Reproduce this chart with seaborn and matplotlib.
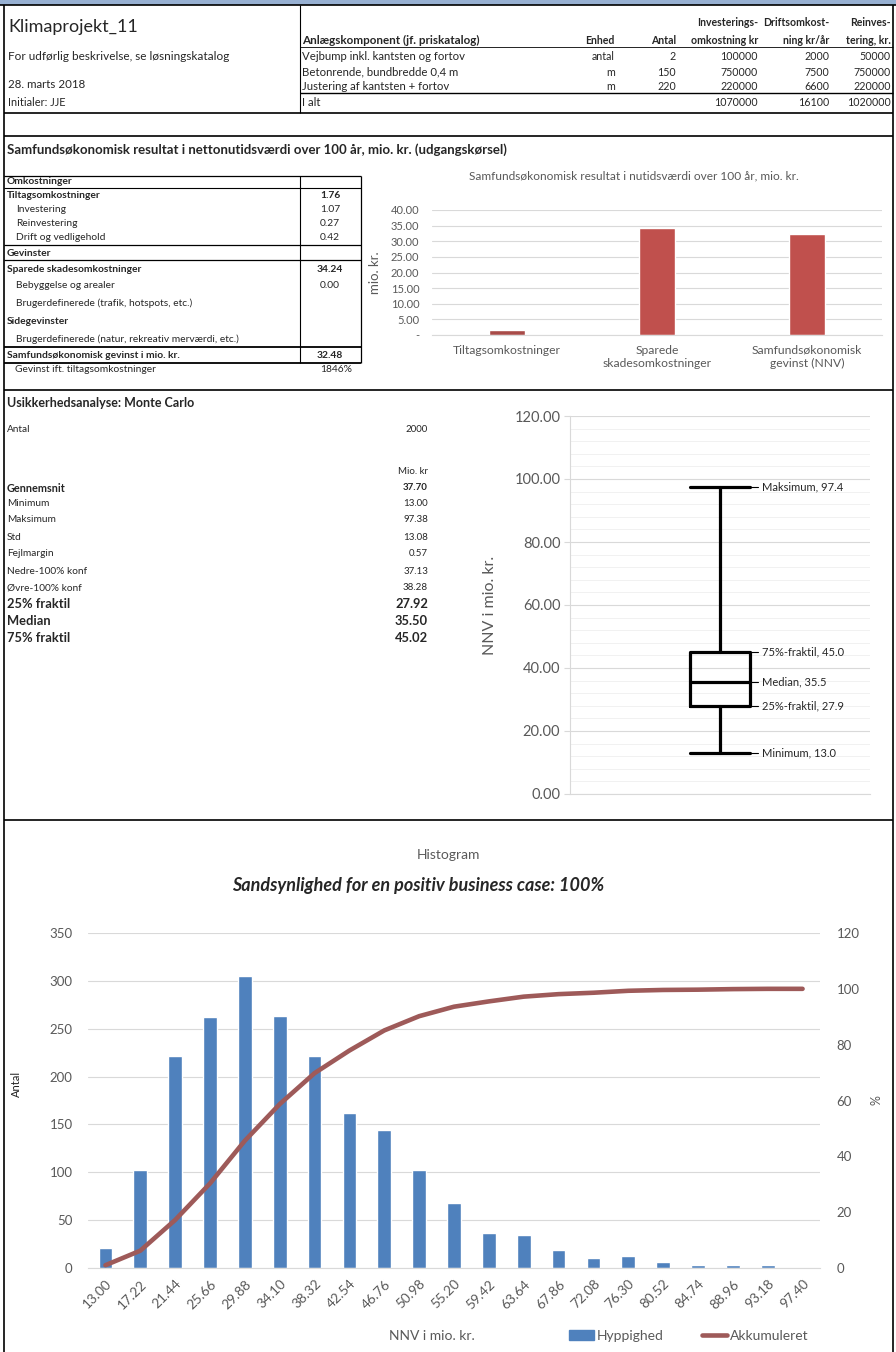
import numpy as np
import matplotlib
matplotlib.use('Agg')
import matplotlib.pyplot as plt
import seaborn as sns
from matplotlib.patches import Rectangle, Patch
from matplotlib.lines import Line2D
from matplotlib.ticker import MultipleLocator, FuncFormatter

# ---- data ----
komponenter = ['Vejbump inkl. kantsten og fortov', 'Betonrende, bundbredde 0,4 m',
               'Justering af kantsten + fortov']
enheder = ['antal', 'm', 'm']
antal = [2, 150, 220]
invest_kr = [100000, 750000, 220000]
drift_kr = [2000, 7500, 6600]
reinvest_kr = [50000, 750000, 220000]

omk_labels = ['Omkostninger', 'Tiltagsomkostninger', 'Investering', 'Reinvestering',
              'Drift og vedligehold', 'Gevinster', 'Sparede skadesomkostninger',
              'Bebyggelse og arealer', 'Brugerdefinerede (trafik, hotspots, etc.)',
              'Sidegevinster', 'Brugerdefinerede (natur, rekreativ merværdi, etc.)',
              'Samfundsøkonomisk gevinst i mio. kr.', 'Gevinst ift. tiltagsomkostninger']
omk_values = ['', '1.76', '1.07', '0.27', '0.42', '', '34.24', '0.00', '', '', '',
              '32.48', '1846%']

resultat_kategorier = ['Tiltagsomkostninger', 'Sparede\nskadesomkostninger',
                       'Samfundsøkonomisk\ngevinst (NNV)']
resultat_vaerdier = [1.76, 34.24, 32.48]

mc_antal = 2000
mc_labels = ['Gennemsnit', 'Minimum', 'Maksimum', 'Std', 'Fejlmargin', 'Nedre-100% konf',
             'Øvre-100% konf', '25% fraktil', 'Median', '75% fraktil']
mc_values = [37.70, 13.00, 97.38, 13.08, 0.57, 37.13, 38.28, 27.92, 35.50, 45.02]

box_navne = ['Maksimum', '75%-fraktil', 'Median', '25%-fraktil', 'Minimum']
box_vaerdier = [97.38, 45.02, 35.50, 27.92, 13.00]

hist_bins = ['13.00', '17.22', '21.44', '25.66', '29.88', '34.10', '38.32', '42.54',
             '46.76', '50.98', '55.20', '59.42', '63.64', '67.86', '72.08', '76.30',
             '80.52', '84.74', '88.96', '93.18', '97.40']
hist_antal = [21, 102, 221, 262, 305, 263, 222, 162, 144, 102, 68, 37, 34, 19, 10, 13,
              6, 3, 3, 3, 0]
hist_akk = [1.0, 6.2, 17.2, 30.3, 45.6, 58.7, 69.8, 77.9, 85.1, 90.2, 93.6, 95.5, 97.2,
            98.1, 98.6, 99.3, 99.6, 99.7, 99.9, 100.0, 100.0]

# ---- style ----
sns.set_style('white')
plt.rcParams['font.family'] = ['Lato', 'DejaVu Sans']
GRAY = '#595959'
GRID = '#D9D9D9'
BLUE = '#4F81BD'
RED = '#C0504D'
BROWN = '#9E5A59'

W, H = 896, 1352
fig = plt.figure(figsize=(W / 100, H / 100), dpi=100)


def px_axes(x0, y0, x1, y1):
    return fig.add_axes([x0 / W, 1 - y1 / H, (x1 - x0) / W, (y1 - y0) / H])


bg = fig.add_axes([0, 0, 1, 1])
bg.set_xlim(0, W)
bg.set_ylim(H, 0)
bg.axis('off')


def txt(x, y, s, size=7, weight='normal', ha='left', **kw):
    bg.text(x, y, s, fontsize=size, fontweight=weight, ha=ha, va='center', **kw)


def hline(y, x0, x1, lw=0.8):
    bg.plot([x0, x1], [y, y], color='black', lw=lw, solid_capstyle='butt')


def vline(x, y0, y1, lw=0.8):
    bg.plot([x, x], [y0, y1], color='black', lw=lw, solid_capstyle='butt')


# frame / section lines
bg.add_patch(Rectangle((0, 0), W, 5, color='#97B0D2', lw=0))
hline(5, 0, W, 1.2)
vline(4, 5, H, 1.2)
vline(893, 5, H, 1.2)
vline(300, 5, 113)
hline(47, 300, 893, 0.6)
hline(93, 300, 893, 1.0)
hline(113, 4, 893, 1.2)
hline(136, 4, 893, 1.2)
hline(390, 4, 893, 1.2)
hline(820, 4, 893, 1.2)

# ---- top block ----
txt(8, 27, 'Klimaprojekt_11', size=13)
txt(8, 56, 'For udførlig beskrivelse, se løsningskatalog', size=8.5)
txt(8, 84, '28. marts 2018', size=8.3)
txt(8, 102, 'Initialer: JJE', size=7.9)

col_x = [615, 676, 758, 829, 891]
txt(302, 40, 'Anlægskomponent (jf. priskatalog)', size=8.4, weight='bold')
for x, top, bottom in zip(col_x, ['', '', 'Investerings-', 'Driftsomkost-', 'Reinves-'],
                          ['Enhed', 'Antal', 'omkostning kr', 'ning kr/år', 'tering, kr.']):
    txt(x, 23, top, size=7.6, weight='bold', ha='right')
    txt(x, 40, bottom, size=7.6, weight='bold', ha='right')

row_y = [56, 72, 87]
for y, k, e, a, i, d, r in zip(row_y, komponenter, enheder, antal, invest_kr, drift_kr,
                               reinvest_kr):
    txt(302, y, k, size=8.2)
    for x, v in zip(col_x, [e, a, i, d, r]):
        txt(x, y, str(v), size=7.7, ha='right')
txt(302, 102, 'I alt', size=8.2)
for x, v in zip(col_x[2:], [sum(invest_kr), sum(drift_kr), sum(reinvest_kr)]):
    txt(x, 102, str(v), size=7.7, ha='right')

# ---- section 2: cost table ----
txt(7, 150, 'Samfundsøkonomisk resultat i nettonutidsværdi over 100 år, mio. kr. (udgangskørsel)',
    size=9.5, weight='bold')
omk_y = [182, 195, 210, 223, 237, 253, 270, 286, 303, 321, 339, 355, 369]
omk_bold = [True, True, False, False, False, True, True, False, False, True, False, True, False]
omk_indent = [7, 7, 16, 16, 16, 7, 7, 16, 16, 7, 16, 7, 15]
for y, lab, val, b, ix in zip(omk_y, omk_labels, omk_values, omk_bold, omk_indent):
    txt(ix, y, lab, size=7.4, weight='bold' if b else 'normal')
    txt(336 if val.endswith('%') else 330, y, val, size=7.4, weight='bold' if b else 'normal',
        ha='center')
for y, lw in [(176, 0.9), (188, 0.8), (245, 0.9), (260, 0.9), (347, 1.3), (363, 1.3)]:
    hline(y, 4, 361, lw)
vline(300, 176, 363)
vline(361, 176, 363, 0.9)

# bar chart
txt(634, 176, 'Samfundsøkonomisk resultat i nutidsværdi over 100 år, mio. kr.', size=8.6,
    ha='center', color=GRAY)
ax1 = px_axes(432, 210, 882, 335)
sns.barplot(x=resultat_kategorier, y=resultat_vaerdier, hue=resultat_kategorier,
            palette=['#A84B48', RED, RED], width=0.245, saturation=1, legend=False, ax=ax1)
ax1.set_ylim(0, 40)
ax1.yaxis.set_major_locator(MultipleLocator(5))
ax1.yaxis.set_major_formatter(FuncFormatter(lambda v, p: '-' if v == 0 else f'{v:.2f}'))
ax1.grid(axis='y', color=GRID, lw=0.8)
ax1.set_axisbelow(True)
for s in ['top', 'right', 'left']:
    ax1.spines[s].set_visible(False)
ax1.spines['bottom'].set_color(GRID)
ax1.tick_params(length=0, colors=GRAY, labelsize=8)
ax1.tick_params(axis='x', labelsize=8.7, pad=7)
ax1.tick_params(axis='y', pad=9)
ax1.set_xlabel('')
ax1.set_ylabel('mio. kr.', fontsize=9.5, color=GRAY)
ax1.yaxis.set_label_coords((381 - 432) / 450, 0.5)

# ---- section 3: Monte Carlo ----
txt(7, 403, 'Usikkerhedsanalyse: Monte Carlo', size=9, weight='bold')
txt(7, 430, 'Antal', size=7.2)
txt(428, 430, str(mc_antal), size=7, ha='right')
txt(428, 471, 'Mio. kr', size=7, ha='right')
mc_y = [488, 503, 520, 537, 554, 571, 588, 604, 621, 638]
for i, (y, lab, val) in enumerate(zip(mc_y, mc_labels, mc_values)):
    big = i >= 7
    w = 'bold' if (i == 0 or big) else 'normal'
    s = 9.3 if big else (7.8 if i == 0 else 7.3)
    txt(7, y, lab, size=s, weight=w)
    txt(428, y, f'{val:.2f}', size=s if big else 7, weight=w, ha='right')

ax2 = px_axes(570, 416, 870, 794)
stats = [dict(med=box_vaerdier[2], q1=box_vaerdier[3], q3=box_vaerdier[1],
              whislo=box_vaerdier[4], whishi=box_vaerdier[0])]
lp = dict(color='black', lw=2.3)
ax2.bxp(stats, positions=[0.5], widths=0.197, capwidths=0.197, showfliers=False,
        boxprops=lp, whiskerprops=lp, capprops=lp, medianprops=lp)
for name, v in zip(box_navne, box_vaerdier):
    ax2.plot([0.603, 0.627], [v, v], color='black', lw=0.8)
    ax2.text(0.64, v, f'{name}, {v:.1f}', va='center', fontsize=8)
ax2.set_xlim(0, 1)
ax2.set_ylim(0, 120)
ax2.set_xticks([])
ax2.yaxis.set_major_locator(MultipleLocator(20))
ax2.yaxis.set_minor_locator(MultipleLocator(4))
ax2.yaxis.set_major_formatter(FuncFormatter(lambda v, p: f'{v:.2f}'))
ax2.grid(axis='y', which='major', color=GRID, lw=0.8)
ax2.grid(axis='y', which='minor', color='#EFEFEF', lw=0.6)
ax2.set_axisbelow(True)
for s in ['top', 'right']:
    ax2.spines[s].set_visible(False)
ax2.spines['left'].set_color(GRID)
ax2.spines['bottom'].set_color(GRID)
ax2.tick_params(axis='y', which='major', length=4, color=GRID, labelsize=10.5,
                labelcolor=GRAY, pad=3, left=True)
ax2.tick_params(axis='y', which='minor', length=0)
ax2.set_ylabel('NNV i mio. kr.', fontsize=11.5, color=GRAY)
ax2.yaxis.set_label_coords((497 - 570) / 300, 0.5)

# ---- section 4: histogram ----
txt(448, 855, 'Histogram', size=10, ha='center', color=GRAY)
txt(418, 885, 'Sandsynlighed for en positiv business case: 100%', size=13,
    weight='bold', ha='center', style='italic')

ax3 = px_axes(88, 933, 820, 1268)
sns.barplot(x=hist_bins, y=hist_antal, color=BLUE, width=0.39, saturation=1, ax=ax3)
ax3.set_ylim(0, 350)
ax3.yaxis.set_major_locator(MultipleLocator(50))
ax3.grid(axis='y', color=GRID, lw=0.8)
ax3.set_axisbelow(True)
ax4 = ax3.twinx()
sns.lineplot(x=np.arange(len(hist_bins)), y=hist_akk, color=BROWN, lw=3.3, ax=ax4,
             solid_capstyle='round', solid_joinstyle='round')
ax4.set_ylim(0, 120)
ax4.yaxis.set_major_locator(MultipleLocator(20))
ax3.set_xlim(-0.5, len(hist_bins) - 0.5)
ax3.set_xticks(range(len(hist_bins)))
ax3.set_xticklabels(hist_bins, rotation=45, ha='right', rotation_mode='anchor')
for a in (ax3, ax4):
    for s in ['top', 'right', 'left', 'bottom']:
        a.spines[s].set_visible(False)
ax3.spines['bottom'].set_visible(True)
ax3.spines['bottom'].set_color(GRID)
ax3.tick_params(axis='x', length=0, labelsize=9.8, labelcolor=GRAY, pad=7)
ax3.tick_params(axis='y', length=0, labelsize=9.5, labelcolor=GRAY, pad=11)
ax4.tick_params(axis='y', length=0, labelsize=9.5, labelcolor=GRAY, pad=12)
ax3.set_xlabel('')
ax3.set_ylabel('Antal', fontsize=8, color='#222222')
ax3.yaxis.set_label_coords((22 - 88) / 732, 0.55)
ax4.set_ylabel('%', fontsize=9, color=GRAY, rotation=90)
ax4.yaxis.set_label_coords((870 - 88) / 732, 0.5)

txt(432, 1336, 'NNV i mio. kr.', size=10, ha='center', color=GRAY)
handles = [Patch(color=BLUE), Line2D([0], [0], color=BROWN, lw=3.3)]
fig.legend(handles, ['Hyppighed', 'Akkumuleret'], loc='center left',
           bbox_to_anchor=(556 / W, 1 - 1336 / H), ncol=2, frameon=False, fontsize=10,
           handlelength=1.8, handletextpad=0.2, columnspacing=2.8, labelcolor=GRAY)

fig.savefig('out.png', dpi=100)
